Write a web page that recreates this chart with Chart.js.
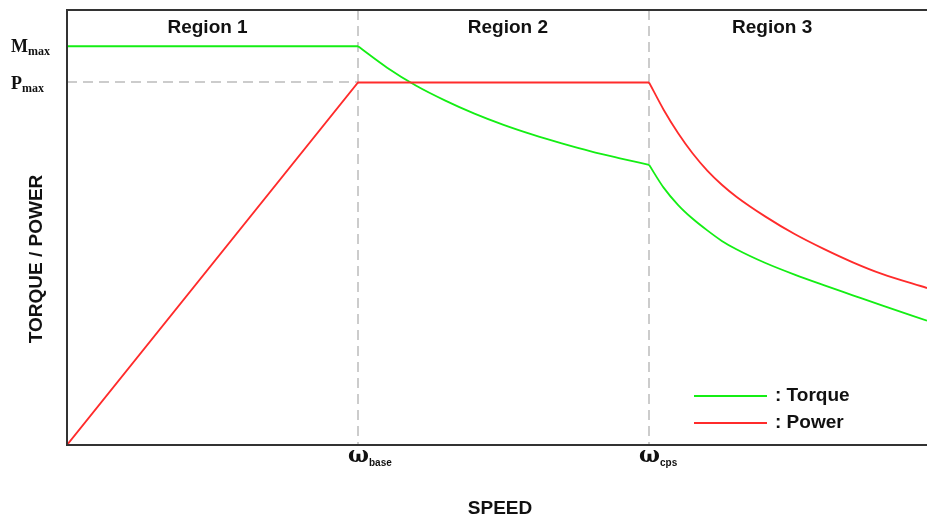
<!DOCTYPE html>
<html>
<head>
<meta charset="utf-8">
<script src="https://cdn.jsdelivr.net/npm/chart.js@4.4.1/dist/chart.umd.min.js"></script>
<style>
  body { margin: 0; background: #fff; }
  canvas { display: block; }
</style>
</head>
<body>
<canvas id="motorChart" width="927" height="520"></canvas>
<script>
// speed is in units of base speed, torque/power in units of Pmax
var speedTicks = [1, 2];
var speedTickLabels = [["\u03c9", "base"], ["\u03c9", "cps"]];
var levelTicks = [1.1, 1.0];
var levelTickLabels = [["M", "max"], ["P", "max"]];
var regionNames = ["Region 1", "Region 2", "Region 3"];
var regionCenters = [0.483, 1.515, 2.423];

var speed1 = [0, 1];
var torque1 = [1.1, 1.1];
var powerSpeed12 = [0, 1, 2];
var power12 = [0, 1, 1];

var speed2 = [1.0, 1.1, 1.2, 1.3, 1.4, 1.5, 1.6, 1.7, 1.8, 1.9, 2.0];
var torque2 = [1.1, 1.041, 0.991, 0.95, 0.914, 0.883, 0.856, 0.832, 0.81, 0.791, 0.773];

var speed3 = [2.0, 2.05, 2.1, 2.15, 2.2, 2.25, 2.3, 2.4, 2.5, 2.6, 2.7, 2.8, 2.955];
var torque3 = [0.773, 0.71, 0.662, 0.624, 0.592, 0.563, 0.54, 0.502, 0.47, 0.441, 0.413, 0.385, 0.343];
var power3 = [1.0, 0.925, 0.86, 0.804, 0.757, 0.718, 0.685, 0.63, 0.582, 0.541, 0.504, 0.472, 0.433];

var legendNames = [": Torque", ": Power"];
var torqueColor = "#14ee14";
var powerColor = "#ff2b2b";

function pts(xs, ys) {
    var out = [];
    for (var i = 0; i < xs.length; i++) out.push({x: xs[i], y: ys[i]});
    return out;
}

var sansBold = "bold 19px 'Liberation Sans', Arial, sans-serif";

var decorations = {
    id: "decorations",
    beforeDatasetsDraw: function(chart) {
        var ctx = chart.ctx, a = chart.chartArea;
        var xs = chart.scales.x, ys = chart.scales.y;
        ctx.save();
        ctx.strokeStyle = "#cccccc";
        ctx.lineWidth = 2;
        ctx.setLineDash([10, 6]);
        for (var i = 0; i < speedTicks.length; i++) {
            var px = Math.round(xs.getPixelForValue(speedTicks[i]));
            ctx.beginPath();
            ctx.moveTo(px, a.top);
            ctx.lineTo(px, a.bottom);
            ctx.stroke();
        }
        var py = Math.round(ys.getPixelForValue(levelTicks[1]));
        ctx.beginPath();
        ctx.moveTo(a.left, py);
        ctx.lineTo(xs.getPixelForValue(speedTicks[0]), py);
        ctx.stroke();
        ctx.restore();
    },
    afterDraw: function(chart) {
        var ctx = chart.ctx, a = chart.chartArea;
        var xs = chart.scales.x, ys = chart.scales.y;
        ctx.save();
        // frame: top, left, bottom
        ctx.strokeStyle = "#333333";
        ctx.lineWidth = 2;
        ctx.beginPath();
        ctx.moveTo(chart.width, a.top);
        ctx.lineTo(a.left, a.top);
        ctx.lineTo(a.left, a.bottom);
        ctx.lineTo(chart.width, a.bottom);
        ctx.stroke();

        ctx.fillStyle = "#111111";
        ctx.textBaseline = "middle";

        // region headings
        ctx.font = sansBold;
        ctx.textAlign = "center";
        for (var i = 0; i < regionNames.length; i++) {
            ctx.fillText(regionNames[i], xs.getPixelForValue(regionCenters[i]), a.top + 18);
        }

        // speed tick labels
        ctx.textAlign = "left";
        ctx.textBaseline = "alphabetic";
        for (var j = 0; j < speedTicks.length; j++) {
            var tx = xs.getPixelForValue(speedTicks[j]) - 10;
            ctx.font = "bold 22px 'DejaVu Serif', 'Liberation Serif', serif";
            ctx.fillText(speedTickLabels[j][0], tx, a.bottom + 17);
            var w = ctx.measureText(speedTickLabels[j][0]).width;
            ctx.font = "bold 10px 'Liberation Sans', Arial, sans-serif";
            ctx.fillText(speedTickLabels[j][1], tx + w, a.bottom + 21);
        }

        // level tick labels
        for (var k = 0; k < levelTicks.length; k++) {
            var ly = ys.getPixelForValue(levelTicks[k]);
            ctx.font = "bold 18px 'Liberation Serif', 'Times New Roman', serif";
            ctx.fillText(levelTickLabels[k][0], 11, ly + 6);
            var w2 = ctx.measureText(levelTickLabels[k][0]).width;
            ctx.font = "bold 12px 'Liberation Serif', 'Times New Roman', serif";
            ctx.fillText(levelTickLabels[k][1], 11 + w2, ly + 9);
        }

        // axis titles
        ctx.font = sansBold;
        ctx.textAlign = "center";
        ctx.textBaseline = "middle";
        ctx.fillText("SPEED", 500, 509);
        ctx.save();
        ctx.translate(37, 259);
        ctx.rotate(-Math.PI / 2);
        ctx.fillText("TORQUE / POWER", 0, 0);
        ctx.restore();

        // legend
        var colors = [torqueColor, powerColor];
        ctx.textAlign = "left";
        for (var m = 0; m < legendNames.length; m++) {
            var gy = 396 + m * 27;
            ctx.strokeStyle = colors[m];
            ctx.lineWidth = 1.8;
            ctx.beginPath();
            ctx.moveTo(694, gy);
            ctx.lineTo(767, gy);
            ctx.stroke();
            ctx.fillStyle = "#111111";
            ctx.fillText(legendNames[m], 775, gy);
        }
        ctx.restore();
    }
};

function lineSet(label, data, color, curved) {
    return {
        label: label,
        data: data,
        borderColor: color,
        borderWidth: 1.8,
        pointRadius: 0,
        fill: false,
        tension: 0,
        cubicInterpolationMode: curved ? "monotone" : "default"
    };
}

new Chart("motorChart", {
    type: "line",
    data: {
        datasets: [
            lineSet("Power", pts(powerSpeed12, power12), powerColor, false),
            lineSet("Power", pts(speed3, power3), powerColor, true),
            lineSet("Torque", pts(speed1, torque1), torqueColor, false),
            lineSet("Torque", pts(speed2, torque2), torqueColor, true),
            lineSet("Torque", pts(speed3, torque3), torqueColor, true)
        ]
    },
    options: {
        responsive: false,
        animation: false,
        layout: {padding: {left: 67, right: 0, top: 10, bottom: 75}},
        scales: {
            x: {type: "linear", min: 0, max: 2.955, display: false},
            y: {type: "linear", min: 0, max: 1.2, display: false}
        },
        plugins: {
            legend: {display: false},
            tooltip: {enabled: false}
        }
    },
    plugins: [decorations]
});
</script>
</body>
</html>
